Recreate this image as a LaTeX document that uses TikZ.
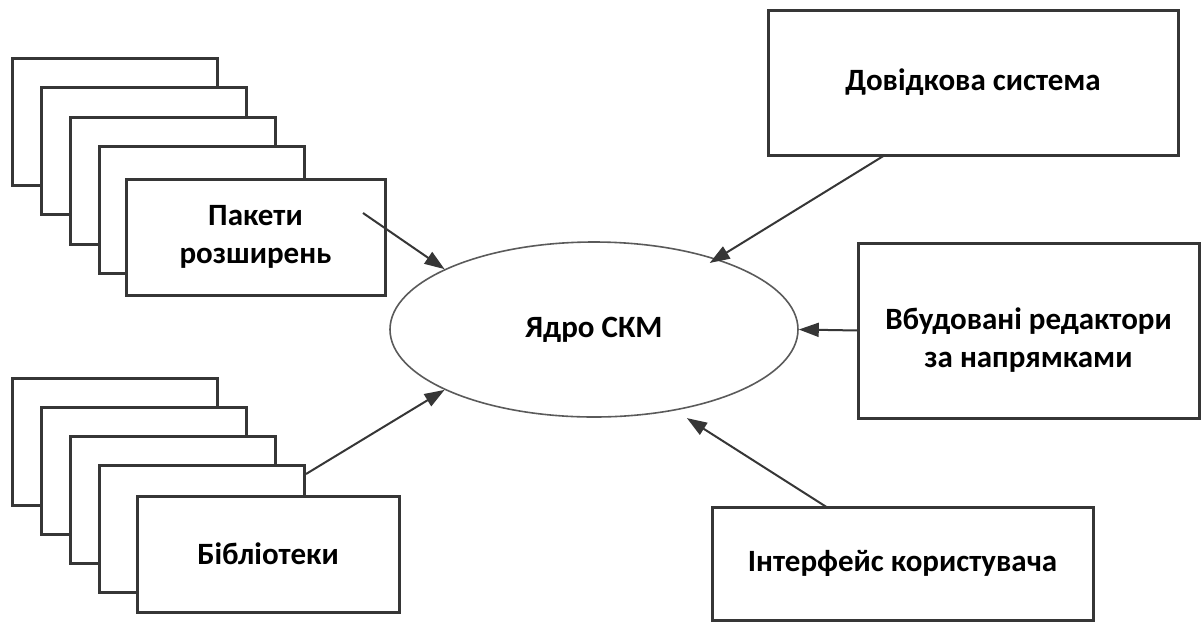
\documentclass[tikz,border=0pt]{standalone}
\usepackage{fontspec}
\setmainfont{Carlito}
\usepackage{xcolor}
\usepackage{tikz}
\usetikzlibrary{shapes.geometric, arrows.meta, positioning, calc}

\definecolor{edge}{HTML}{363636}
\definecolor{ring}{HTML}{5A5A5A}

\begin{document}
\begin{tikzpicture}[
    x=0.5pt, y=-0.5pt,
    card/.style={rectangle, draw=edge, line width=1.5pt, fill=white, inner sep=0pt, outer sep=0pt, minimum width=102.5pt, minimum height=63.5pt},
    block/.style={rectangle, draw=edge, line width=1.5pt, fill=white, inner sep=0pt, outer sep=0pt, align=center, font=\fontsize{15.5}{19}\selectfont\bfseries},
    core/.style={ellipse, draw=ring, line width=0.8pt, inner sep=0pt, minimum width=204pt, minimum height=87.5pt, font=\fontsize{15.5}{19}\selectfont\bfseries},
    arrow/.style={line width=1pt, draw=edge, -{Triangle[length=10pt,width=7pt]}}
]
    \useasboundingbox (0,0) rectangle (1201,623);

    \foreach \i in {1,...,4}
        \node [card] (pk\i) at ({85.2+29.3*\i},{92+29.5*\i}) {};
    \node [block, minimum width=129.5pt, minimum height=58pt] (pk) at (255.5,237) {Пакети\\розширень};

    \foreach \i in {1,...,4}
        \node [card] (lb\i) at ({85.2+29.3*\i},{412.2+29.3*\i}) {};
    \node [block, minimum width=131pt, minimum height=58pt] (lb) at (268,554) {Бібліотеки};

    \node [core] (core) at (594,329.5) {Ядро СКМ};

    \node [block, minimum width=205pt, minimum height=72.5pt] (dov) at (973,82.5) {Довідкова система};
    \node [block, minimum width=170.5pt, minimum height=87.5pt, text height=39pt] (red) at (1028.5,330.5) {Вбудовані редактори\\за напрямками};
    \node [block, minimum width=190.5pt, minimum height=56.5pt] (ui) at (902.5,563.5) {Інтерфейс користувача};

    \coordinate (pkout) at (363,213);
    \coordinate (lbout) at (306,474);

    \draw [arrow] (pkout) -- (core.158);
    \draw [arrow] (lbout) -- (core.202);
    \draw [arrow, shorten >=-4pt] ([xshift=-44pt]dov.south) -- (core.30);
    \draw [arrow] (red.west) -- (core.east);
    \draw [arrow, shorten >=7pt] ([xshift=-38pt]ui.north) -- (core.-45);
\end{tikzpicture}
\end{document}
